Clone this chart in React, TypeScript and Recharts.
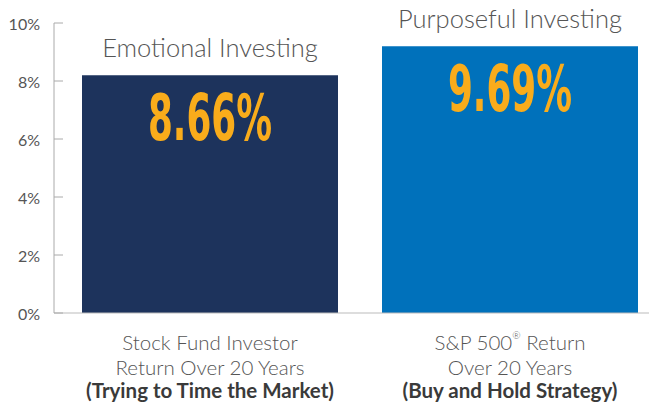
import { Bar, BarChart, Cell, LabelList, XAxis, YAxis } from 'recharts';

const categories = ['Emotional Investing', 'Purposeful Investing'];
const barValues = [8.2, 9.2];
const returnLabels = ['8.66%', '9.69%'];
const captionTop = ['Stock Fund Investor', 'S&P 500'];
const captionMiddle = ['Return Over 20 Years', 'Over 20 Years'];
const captionBottom = ['(Trying to Time the Market)', '(Buy and Hold Strategy)'];
const yTicks = [0, 2, 4, 6, 8, 10];
const barColors = ['#1d335c', '#0071bb'];

const data = categories.map((name, i) => ({
  name,
  value: barValues[i],
  label: returnLabels[i],
}));

const FONT = 'Lato, "Open Sans", sans-serif';

const YTick = (props: any) => {
  const { x, y, payload } = props;
  return (
    <g>
      <line x1={x + 14} x2={x + 23} y1={y} y2={y} stroke="#aaa" strokeWidth={1} />
      <text
        x={x}
        y={y}
        textAnchor="end"
        dominantBaseline="central"
        fontFamily={FONT}
        fontSize={16}
        fill="#555"
      >
        {payload.value}%
      </text>
    </g>
  );
};

const XTick = (props: any) => {
  const { x, y, index } = props;
  const isSp = index === 1;
  return (
    <g fontFamily={FONT} textAnchor="middle">
      <text x={x} y={y + 29} dominantBaseline="central" fontSize={20.5} fontWeight={300} fill="#555">
        {captionTop[index]}
        {isSp && (
          <tspan fontSize={10} dy={-7}>
            ®
          </tspan>
        )}
        {isSp && <tspan dy={7}> Return</tspan>}
      </text>
      <text x={x} y={y + 54} dominantBaseline="central" fontSize={20.5} fontWeight={300} fill="#555">
        {captionMiddle[index]}
      </text>
      <text
        x={x}
        y={y + 77}
        dominantBaseline="central"
        fontSize={20.5}
        fontWeight="bold"
        fill="#3a3a3a"
      >
        {captionBottom[index]}
      </text>
    </g>
  );
};

const renderTitle = (props: any) => {
  const x = Number(props.x);
  const y = Number(props.y);
  const width = Number(props.width);
  return (
    <text
      x={x + width / 2}
      y={y - 28}
      textAnchor="middle"
      dominantBaseline="central"
      fontFamily={FONT}
      fontSize={25.5}
      fontWeight={300}
      fill="#555"
    >
      {props.value}
    </text>
  );
};

const renderReturn = (props: any) => {
  const x = Number(props.x);
  const y = Number(props.y);
  const width = Number(props.width);
  return (
    <text
      x={x + width / 2}
      y={y + 65}
      textAnchor="middle"
      fontFamily='"DejaVu Sans Condensed", "DejaVu Sans", sans-serif'
      fontWeight="bold"
      fontSize={64}
      textLength={124}
      lengthAdjust="spacingAndGlyphs"
      fill="#f9ac1b"
    >
      {props.value}
    </text>
  );
};

const App = () => {
  return (
    <div style={{ position: 'absolute', left: 0, top: 0, background: '#fff' }}>
      <BarChart
        width={660}
        height={402}
        data={data}
        margin={{ top: 23, right: 0, bottom: 0, left: 0 }}
        barSize={256}
      >
        <XAxis
          dataKey="name"
          interval={0}
          height={89}
          tickLine={false}
          tickSize={0}
          tickMargin={0}
          padding={{ left: 6, right: 0 }}
          stroke="#bbb"
          tick={<XTick />}
        />
        <YAxis
          width={54}
          domain={[0, 10]}
          ticks={yTicks}
          tickLine={false}
          tickSize={0}
          tickMargin={14}
          stroke="#aaa"
          tick={<YTick />}
        />
        <Bar dataKey="value" isAnimationActive={false}>
          {data.map((d, i) => (
            <Cell key={d.name} fill={barColors[i]} />
          ))}
          <LabelList dataKey="name" content={renderTitle} />
          <LabelList dataKey="label" content={renderReturn} />
        </Bar>
      </BarChart>
    </div>
  );
};

export default App;
